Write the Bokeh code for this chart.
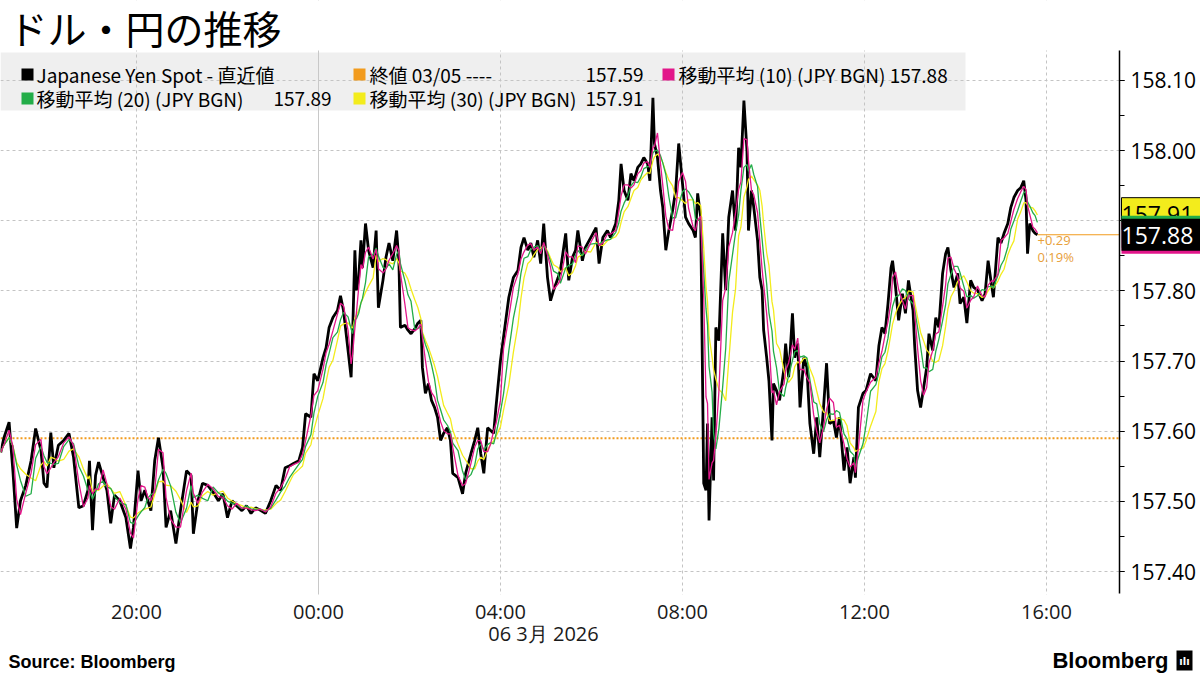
import pandas as pd
from bokeh.plotting import figure
from bokeh.models import (Label, BoxAnnotation, Span, FixedTicker, DatetimeTickFormatter,
                          NumeralTickFormatter, Range1d, SingleIntervalTicker, ColumnDataSource)
from bokeh.embed import file_html
from bokeh.resources import INLINE

TITLE = "ドル・円の推移"
START = "2026-03-05 17:01"
# elapsed minutes since START
minutes = [
    0, 4, 11, 16, 21, 26, 33, 40, 46, 53,
    57, 61, 66, 70, 76, 83, 90, 96, 103, 109,
    115, 117, 121, 125, 129, 135, 140, 145, 150, 157,
    165, 171, 175, 181, 185, 190, 194, 198, 203, 208,
    214, 218, 224, 231, 237, 245, 251, 254, 260, 266,
    273, 280, 287, 293, 299, 305, 311, 318, 324, 330,
    336, 343, 349, 356, 363, 369, 375, 381, 386, 393,
    398, 402, 409, 413, 418, 425, 429, 433, 438, 444,
    448, 452, 458, 462, 464, 467, 469, 472, 475, 477,
    481, 485, 491, 495, 498, 504, 508, 512, 517, 522,
    525, 527, 533, 537, 541, 546, 550, 554, 556, 560,
    564, 568, 572, 576, 580, 584, 589, 593, 596, 603,
    609, 613, 620, 625, 629, 633, 637, 642, 646, 650,
    653, 659, 663, 670, 676, 682, 686, 690, 695, 699,
    703, 708, 712, 716, 721, 725, 729, 735, 738, 745,
    749, 754, 758, 761, 767, 771, 778, 785, 789, 794,
    800, 804, 811, 815, 818, 822, 827, 831, 835, 840,
    844, 848, 853, 856, 860, 862, 866, 870, 873, 877,
    881, 886, 890, 894, 899, 903, 907, 913, 916, 919,
    923, 927, 930, 932, 934, 938, 940, 943, 947, 952,
    956, 960, 965, 969, 973, 976, 980, 984, 986, 990,
    993, 998, 1001, 1004, 1006, 1010, 1013, 1017, 1019, 1023,
    1027, 1033, 1035, 1039, 1044, 1047, 1051, 1054, 1059, 1063,
    1067, 1072, 1076, 1080, 1085, 1089, 1093, 1098, 1102, 1106,
    1112, 1116, 1120, 1125, 1127, 1131, 1137, 1141, 1147, 1154,
    1158, 1162, 1166, 1170, 1174, 1176, 1180, 1184, 1189, 1193,
    1197, 1203, 1205, 1209, 1213, 1217, 1221, 1224, 1229, 1233,
    1237, 1242, 1246, 1249, 1253, 1257, 1262, 1265, 1270, 1274,
    1279, 1283, 1288, 1294, 1298, 1302, 1307, 1309, 1315, 1319,
    1323, 1328, 1332, 1336, 1341, 1345, 1349, 1352, 1354, 1357,
    1361, 1364, 1367,
]
spot = [
    157.570, 157.590, 157.613, 157.544, 157.462, 157.501, 157.523, 157.558, 157.604, 157.573,
    157.526, 157.520, 157.598, 157.548, 157.580, 157.587, 157.597, 157.563, 157.491, 157.494,
    157.516, 157.558, 157.459, 157.537, 157.556, 157.534, 157.516, 157.469, 157.509, 157.501,
    157.477, 157.433, 157.463, 157.544, 157.501, 157.516, 157.501, 157.487, 157.558, 157.591,
    157.548, 157.463, 157.487, 157.440, 157.487, 157.544, 157.537, 157.454, 157.501, 157.526,
    157.523, 157.513, 157.501, 157.511, 157.477, 157.501, 157.494, 157.487, 157.494, 157.483,
    157.491, 157.487, 157.483, 157.501, 157.523, 157.516, 157.548, 157.551, 157.554, 157.558,
    157.577, 157.625, 157.620, 157.682, 157.672, 157.705, 157.719, 157.748, 157.762, 157.772,
    157.793, 157.772, 157.715, 157.677, 157.739, 157.858, 157.801, 157.819, 157.872, 157.833,
    157.896, 157.858, 157.833, 157.886, 157.776, 157.815, 157.848, 157.868, 157.843, 157.886,
    157.843, 157.748, 157.751, 157.744, 157.739, 157.746, 157.754, 157.758, 157.691, 157.654,
    157.668, 157.644, 157.634, 157.620, 157.587, 157.597, 157.605, 157.587, 157.540, 157.534,
    157.511, 157.540, 157.568, 157.587, 157.605, 157.568, 157.540, 157.605, 157.601, 157.597,
    157.634, 157.701, 157.734, 157.791, 157.819, 157.829, 157.862, 157.876, 157.858, 157.868,
    157.848, 157.872, 157.839, 157.896, 157.819, 157.786, 157.801, 157.819, 157.829, 157.882,
    157.815, 157.848, 157.858, 157.886, 157.843, 157.862, 157.876, 157.890, 157.839, 157.876,
    157.886, 157.876, 157.896, 157.929, 157.981, 157.943, 157.929, 157.967, 157.957, 157.976,
    157.981, 157.990, 157.981, 157.957, 158.075, 158.010, 157.990, 157.943, 157.919, 157.858,
    157.886, 157.915, 157.943, 158.010, 157.953, 157.905, 157.896, 157.886, 157.876, 157.939,
    157.905, 157.526, 157.516, 157.611, 157.473, 157.620, 157.530, 157.748, 157.729, 157.882,
    157.801, 157.905, 157.943, 157.886, 158.004, 157.976, 158.071, 158.000, 157.886, 157.943,
    157.919, 157.872, 157.819, 157.801, 157.744, 157.705, 157.672, 157.587, 157.668, 157.658,
    157.644, 157.691, 157.725, 157.677, 157.768, 157.705, 157.725, 157.634, 157.705, 157.691,
    157.611, 157.568, 157.620, 157.563, 157.634, 157.697, 157.611, 157.615, 157.591, 157.620,
    157.544, 157.577, 157.526, 157.563, 157.534, 157.634, 157.654, 157.658, 157.682, 157.672,
    157.722, 157.748, 157.739, 157.782, 157.833, 157.843, 157.805, 157.758, 157.796, 157.768,
    157.815, 157.772, 157.725, 157.658, 157.634, 157.662, 157.691, 157.739, 157.715, 157.762,
    157.748, 157.825, 157.853, 157.862, 157.829, 157.805, 157.825, 157.782, 157.791, 157.754,
    157.815, 157.805, 157.801, 157.786, 157.796, 157.843, 157.805, 157.791, 157.876, 157.868,
    157.882, 157.896, 157.919, 157.933, 157.943, 157.947, 157.957, 157.929, 157.853, 157.896,
    157.886, 157.882, 157.880,
]
assert len(minutes) == len(spot)

PREV_CLOSE = 157.59
MA_WINDOWS = {"ma10": "10min", "ma20": "20min", "ma30": "30min"}
MA_LAST = {"ma10": 157.88, "ma20": 157.89, "ma30": 157.91}
SPOT_LAST = 157.88
CHANGE_TEXT = ["+0.29", "0.19%"]
X_TICKS = ["2026-03-05 20:00", "2026-03-06 00:00", "2026-03-06 04:00",
           "2026-03-06 08:00", "2026-03-06 12:00", "2026-03-06 16:00"]
DAY_BREAK = "2026-03-06 00:00"
# whole canvas span in data units, and the plotted window inside it
CANVAS_X = ["2026-03-05 17:00:40", "2026-03-06 19:23:05"]
CANVAS_Y = [157.2521, 158.2137]
AXIS_TIME = "2026-03-06 17:36:16"
PLOT_Y = [157.3687, 158.1425]
DATE_LABEL = "06 3月 2026"
LEGEND_ROW1 = ["Japanese Yen Spot - 直近値", "終値 03/05 ----", "移動平均 (10) (JPY BGN) 157.88"]
LEGEND_ROW2 = ["移動平均 (20) (JPY BGN)", "移動平均 (30) (JPY BGN)"]
LEGEND_VALUES = ["157.59", "157.89", "157.91"]
SOURCE = "Source: Bloomberg"
BRAND = "Bloomberg"

C_SPOT = "#000000"
C_CLOSE = "#f29b1d"
C_MA10 = "#e2168a"
C_MA20 = "#23ad48"
C_MA30 = "#f3ec1c"
W, H = 1200, 675


def ms(t):
    return pd.Timestamp(t).value / 1e6


times = pd.Timestamp(START) + pd.to_timedelta(minutes, unit="min")
s = pd.Series(spot, index=times)
df = pd.DataFrame({"t": times, "spot": spot})
for k, w in MA_WINDOWS.items():
    df[k] = s.rolling(w, min_periods=1).mean().values
src = ColumnDataSource(df)

p = figure(width=W, height=H, x_axis_type="datetime", y_axis_location="right",
           output_backend="svg", toolbar_location=None,
           x_range=Range1d(ms(CANVAS_X[0]), ms(CANVAS_X[1])),
           y_range=Range1d(CANVAS_Y[0], CANVAS_Y[1]),
           min_border_left=0, min_border_right=0, min_border_top=0, min_border_bottom=0)
p.outline_line_color = None
p.background_fill_color = "white"
p.border_fill_color = "white"

tick_ms = [ms(t) for t in X_TICKS]
xax = p.xaxis[0]
xax.fixed_location = PLOT_Y[0]
xax.ticker = FixedTicker(ticks=tick_ms)
xax.formatter = DatetimeTickFormatter(hours="%H:%M", hourmin="%H:%M", days="%H:%M",
                                      minutes="%H:%M", minsec="%H:%M")
xax.axis_line_color = None
xax.major_tick_line_color = None
xax.minor_tick_line_color = None
xax.major_tick_out = 0
xax.major_tick_in = 0
xax.minor_tick_out = 0
xax.major_label_text_font = "Open Sans"
xax.major_label_text_font_size = "20px"
xax.major_label_text_color = "#1a1a1a"
xax.major_label_standoff = 4
p.xgrid.ticker = FixedTicker(ticks=tick_ms)
p.xgrid.grid_line_color = "#c4c4c4"
p.xgrid.grid_line_dash = "3 3"

yt = SingleIntervalTicker(interval=0.1, num_minor_ticks=2)
yax = p.yaxis[0]
yax.fixed_location = ms(AXIS_TIME)
yax.bounds = (PLOT_Y[0], PLOT_Y[1])
yax.ticker = yt
yax.formatter = NumeralTickFormatter(format="0.00")
yax.axis_line_color = "black"
yax.axis_line_width = 1.5
yax.major_tick_line_color = "black"
yax.major_tick_out = 5
yax.major_tick_in = 0
yax.minor_tick_line_color = "black"
yax.minor_tick_out = 5
yax.minor_tick_in = 0
yax.major_label_standoff = 6
yax.major_label_text_font = "Open Sans"
yax.major_label_text_font_size = "21px"
yax.major_label_text_color = "black"
p.ygrid.ticker = yt
p.ygrid.grid_line_color = "#c4c4c4"
p.ygrid.grid_line_dash = "3 3"

p.add_layout(Span(location=ms(DAY_BREAK), dimension="height", line_color="#c8c8c8",
                  line_width=1, level="underlay"))
p.add_layout(Span(location=PREV_CLOSE, dimension="width", line_color=C_CLOSE,
                  line_width=2, line_dash="2 2", level="underlay"))


def fx(X):
    return X


def fy(Y):
    return H - Y


def sbox(l, r, t, b, **kw):
    p.add_layout(BoxAnnotation(left=fx(l), right=fx(r), bottom=fy(b), top=fy(t),
                               left_units="screen", right_units="screen",
                               top_units="screen", bottom_units="screen",
                               line_color=None, fill_alpha=1.0, **kw))


# white masks outside the plotting area (hide grid and spans there)
sbox(0, W, 0, 50, fill_color="white", level="underlay")
sbox(0, W, 594, H, fill_color="white", level="underlay")
sbox(1120, W, 0, H, fill_color="white", level="underlay")
# legend background (under the grid)
sbox(0, 965, 52, 110, fill_color="#efefef", level="image")

# lines
p.segment(x0=[df["t"].iloc[-1]], y0=[spot[-1]], x1=[ms(AXIS_TIME)], y1=[spot[-1]],
          line_color=C_CLOSE, line_width=1.2)
p.line("t", "spot", source=src, line_color=C_SPOT, line_width=2.8)
p.line("t", "ma30", source=src, line_color=C_MA30, line_width=1.3)
p.line("t", "ma20", source=src, line_color=C_MA20, line_width=1.3)
p.line("t", "ma10", source=src, line_color=C_MA10, line_width=1.3)


def lab(X, Y, text, size, color="black", font="Noto Sans CJK JP", align="left", bold=False, **kw):
    p.add_layout(Label(x=fx(X), y=fy(Y), x_units="screen", y_units="screen", text=text,
                       text_font=font, text_font_size=f"{size}px", text_color=color,
                       text_align=align, text_baseline="middle",
                       text_font_style="bold" if bold else "normal", **kw))


def square(X, Y, color):
    sbox(X, X + 12, Y - 6, Y + 6, fill_color=color)


# legend
R1, R2 = 74, 98
square(21, R1, C_SPOT)
lab(36, R1, LEGEND_ROW1[0], 19)
square(353, R1, C_CLOSE)
lab(369, R1, LEGEND_ROW1[1], 19)
lab(643, R1, LEGEND_VALUES[0], 19, align="right")
square(662, R1, C_MA10)
lab(678, R1, LEGEND_ROW1[2], 19)
square(21, R2, C_MA20)
lab(36, R2, LEGEND_ROW2[0], 19)
lab(331, R2, LEGEND_VALUES[1], 19, align="right")
square(353, R2, C_MA30)
lab(369, R2, LEGEND_ROW2[1], 19)
lab(643, R2, LEGEND_VALUES[2], 19, align="right")

# axis tags
tags = [(MA_LAST["ma30"], C_MA30, "black", 0), (SPOT_LAST, C_MA20, "white", 3),
        (SPOT_LAST, C_MA10, "white", -3), (SPOT_LAST, "black", "white", 0)]
for val, bg, fg, off in tags:
    p.add_layout(Label(x=fx(1121), x_units="screen", y=val, y_units="data",
                       text=f" {val:.2f}   ", text_font="Open Sans", text_font_size="23px",
                       text_color=fg, text_baseline="middle", y_offset=off,
                       background_fill_color=bg, background_fill_alpha=1.0,
                       border_line_color="black" if bg == C_MA30 else None))

lab(1037, 240, CHANGE_TEXT[0], 13, color="#e8a03a", font="Open Sans")
lab(1037, 256, CHANGE_TEXT[1], 13, color="#e8a03a", font="Open Sans")

# title, date, footer
lab(8, 26, TITLE, 39)
lab(543, 633, DATE_LABEL, 20, font="Open Sans", align="center", color="#1a1a1a")
lab(8, 661, SOURCE, 18, font="Liberation Sans", bold=True)
lab(1168, 660, BRAND, 22, font="Liberation Sans", bold=True, align="right")
sbox(1176, 1192, 650, 670, fill_color="black")
lab(1184, 661, "ılı", 10, font="DejaVu Sans", bold=True, color="white", align="center")

open("out.html", "w").write(file_html(p, INLINE))
